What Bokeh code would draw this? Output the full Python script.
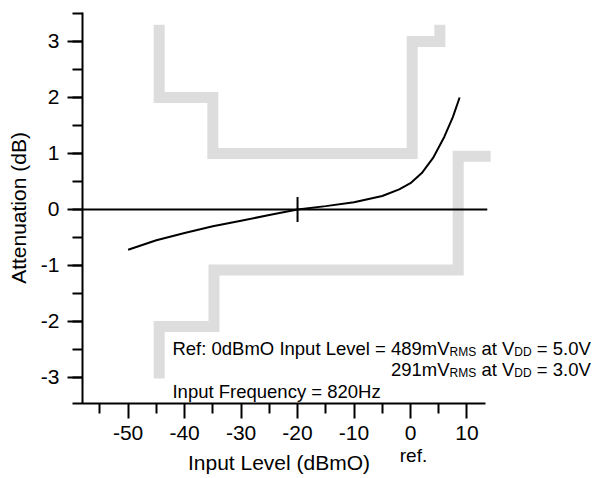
from bokeh.plotting import figure
from bokeh.models import FixedTicker, Label
from bokeh.embed import file_html
from bokeh.resources import INLINE

# ---------------- data ----------------
curve_x = [-50, -45, -40, -35, -30, -25, -20, -15, -10, -5, -2, 0, 2, 4, 6, 7.5, 8.7]
curve_y = [-0.72, -0.55, -0.42, -0.30, -0.20, -0.10, 0.0, 0.06, 0.13, 0.24, 0.36, 0.47, 0.65, 0.92, 1.30, 1.65, 2.00]

upper_mask_x = [-44.5, -44.5, -35, -35, 0.3, 0.3, 5.2, 5.2]
upper_mask_y = [3.3, 2.0, 2.0, 1.0, 1.0, 3.0, 3.0, 3.3]

lower_mask_x = [-44.5, -44.5, -34.8, -34.8, 8.45, 8.45, 14.2]
lower_mask_y = [-3.02, -2.09, -2.09, -1.08, -1.08, 0.95, 0.95]

ref_point_x = [-20]
ref_point_y = [0]

x_major = [-50, -40, -30, -20, -10, 0, 10]
x_minor = [-55, -45, -35, -25, -15, -5, 5]
y_major = [-3, -2, -1, 0, 1, 2, 3]
y_minor = [-3, -2.5, -2, -1.5, -1, -0.5, 0, 0.5, 1, 1.5, 2, 2.5, 3, 3.5]

# axis placement (data units)
X_AXIS_AT = -3.464      # y where the x axis sits
Y_AXIS_AT = -58.1       # x where the y axis sits
X_BOUNDS = (-59.87, 13.3)
Y_BOUNDS = (-3.464, 3.518)

zero_line_x = [-58.1, 13.6]
zero_line_y = [0, 0]

line1 = [("Ref: 0dBmO Input Level = 489mV", False), ("RMS", True), (" at V", False), ("DD", True), (" = 5.0V", False)]
line2 = [("291mV", False), ("RMS", True), (" at V", False), ("DD", True), (" = 3.0V", False)]
line3 = [("Input Frequency = 820Hz", False)]

# ---------------- style ----------------
FONT = "Liberation Sans"
GRAY = "#dddddd"
MAIN = 18.5
SUB = 12
AX_FONT = "21px"

# Arial / Liberation Sans advance widths (per 1000 em) for text layout
W = {' ': 278, 'R': 722, 'e': 556, 'f': 278, ':': 278, 'd': 556, 'B': 667, 'm': 833,
     'O': 778, 'I': 278, 'n': 556, 'p': 556, 'u': 556, 't': 278, 'L': 556, 'v': 500,
     'l': 222, '=': 584, 'V': 667, 'M': 833, 'S': 667, 'D': 722, 'a': 556, '.': 278,
     'F': 611, 'r': 333, 'q': 556, 'c': 500, 'y': 500, 'H': 722, 'z': 500}
for ch in "0123456789":
    W[ch] = 556


def tw(s, size):
    return sum(W[c] for c in s) * size / 1000.0


p = figure(width=596, height=478, output_backend="svg", toolbar_location=None,
           x_range=(-72.60, 32.94), y_range=(-4.804, 3.732),
           min_border=0, min_border_left=0, min_border_right=0, min_border_top=0, min_border_bottom=0)
p.grid.visible = False
p.outline_line_color = None
p.background_fill_color = "white"
p.border_fill_color = "white"

# gray limit masks
p.line(upper_mask_x, upper_mask_y, line_color=GRAY, line_width=11, line_join="miter", line_cap="butt")
p.line(lower_mask_x, lower_mask_y, line_color=GRAY, line_width=11, line_join="miter", line_cap="butt")

# zero line
p.line(zero_line_x, zero_line_y, line_color="black", line_width=2)

# curve
p.line(curve_x, curve_y, line_color="black", line_width=2)

# reference marker
p.scatter(ref_point_x, ref_point_y, marker="dash", size=25, angle=90, angle_units="deg",
          line_color="black", line_width=2)

# axes
xa = p.xaxis[0]
xa.ticker = FixedTicker(ticks=x_major, minor_ticks=x_minor)
xa.bounds = X_BOUNDS
xa.fixed_location = X_AXIS_AT
xa.axis_label = "Input Level (dBmO)"
xa.major_label_overrides = {v: str(v) for v in x_major}
ya = p.yaxis[0]
ya.ticker = FixedTicker(ticks=y_major, minor_ticks=y_minor)
ya.bounds = Y_BOUNDS
ya.fixed_location = Y_AXIS_AT
ya.axis_label = "Attenuation (dB)"
ya.major_label_overrides = {v: str(v) for v in y_major}

for ax in (xa, ya):
    ax.axis_line_color = "black"
    ax.axis_line_width = 2
    ax.major_tick_line_color = "black"
    ax.major_tick_line_width = 2
    ax.minor_tick_line_color = "black"
    ax.minor_tick_line_width = 2
    ax.major_tick_in = 0
    ax.major_tick_out = 15
    ax.minor_tick_in = 0
    ax.minor_tick_out = 10
    ax.major_label_text_font = FONT
    ax.major_label_text_font_size = AX_FONT
    ax.major_label_text_color = "black"
    ax.axis_label_text_font = FONT
    ax.axis_label_text_font_size = AX_FONT
    ax.axis_label_text_font_style = "normal"
    ax.axis_label_text_color = "black"

xa.major_label_standoff = 8
xa.axis_label_standoff = 7
ya.major_label_standoff = 8
ya.axis_label_standoff = 8

# annotation text
ANN_X = -42.15
ANN_Y = [-2.482, -2.857, -3.25]


def add_line(pieces, y, start_off=0.0):
    off = start_off
    for t, sub in pieces:
        size = SUB if sub else MAIN
        lead = len(t) - len(t.lstrip(' '))
        lead_w = tw(' ' * lead, size)
        p.add_layout(Label(x=ANN_X, y=y, x_offset=off + lead_w, y_offset=-4 if sub else 0,
                           text=t.strip(), text_font=FONT, text_font_size=f"{size}px",
                           text_color="black", text_align="left", text_baseline="alphabetic"))
        off += tw(t, size)
    return off


def line_width_px(pieces):
    return sum(tw(t, SUB if sub else MAIN) for t, sub in pieces)


total1 = add_line(line1, ANN_Y[0])
add_line(line2, ANN_Y[1], start_off=total1 - line_width_px(line2))
add_line(line3, ANN_Y[2])

# "ref." under the 0 tick label
ref_tick = 0
p.add_layout(Label(x=ref_tick, y=-4.39, x_offset=3, text="ref.", text_font=FONT,
                   text_font_size="19px", text_color="black", text_align="center",
                   text_baseline="alphabetic"))

open("out.html", "w").write(file_html(p, INLINE))
